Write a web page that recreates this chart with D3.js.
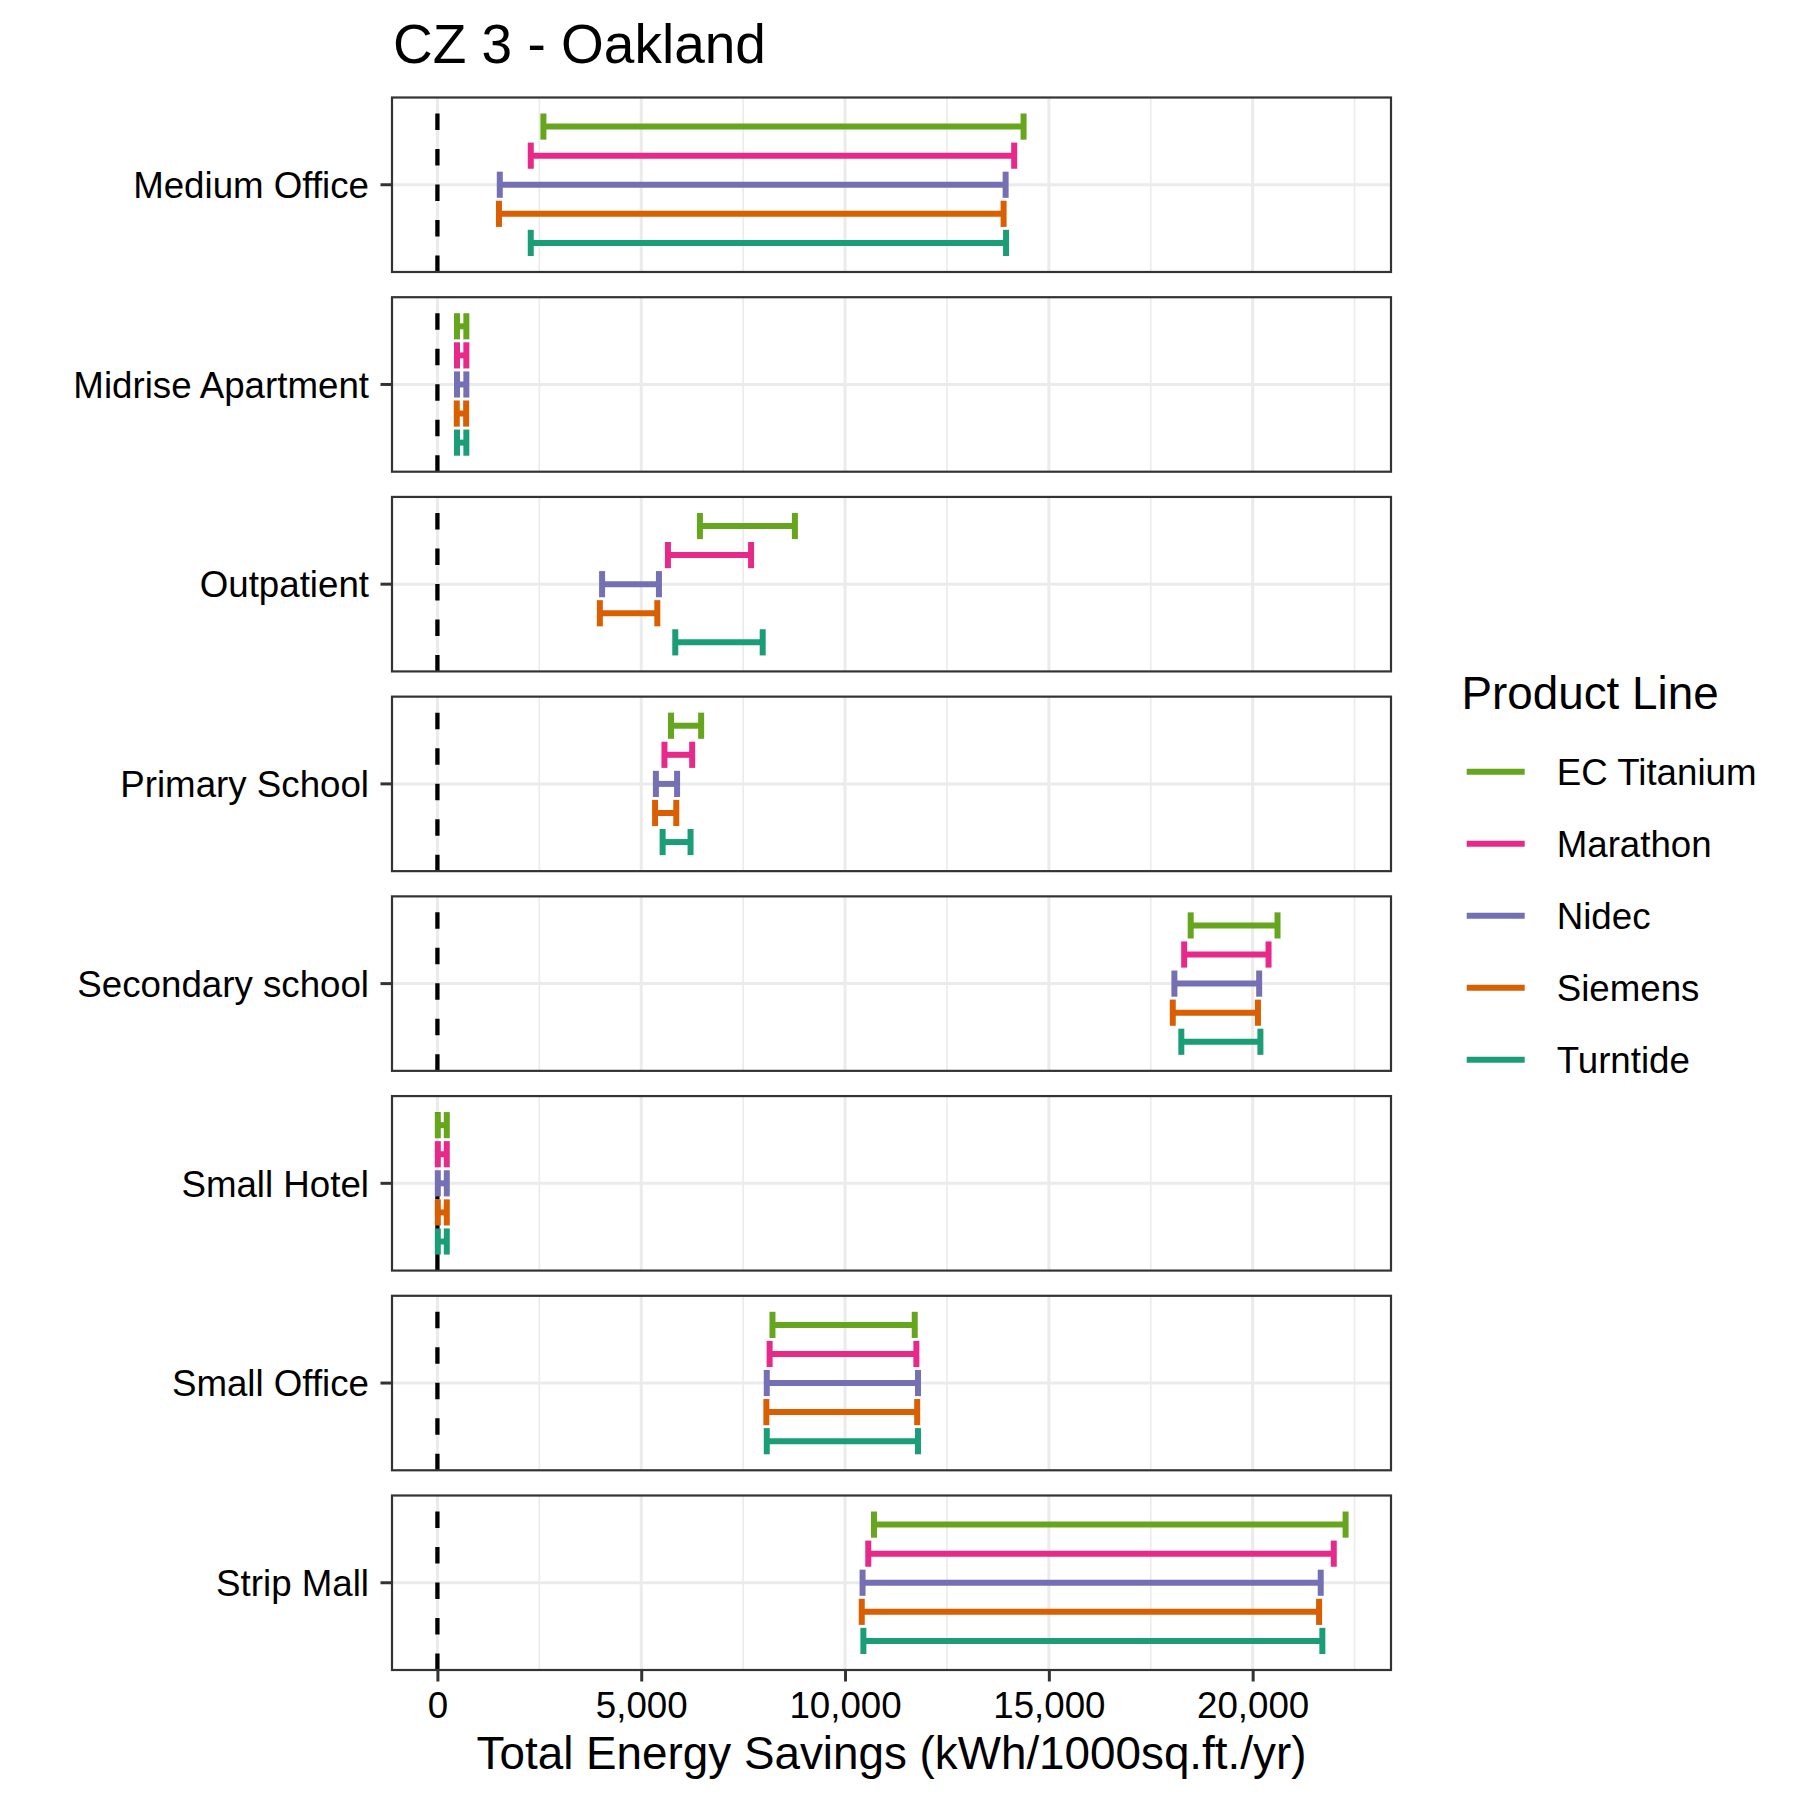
<!DOCTYPE html>
<html>
<head>
<meta charset="utf-8">
<script src="https://cdn.jsdelivr.net/npm/d3@7"></script>
<style>
  html, body { margin: 0; padding: 0; background: #ffffff; }
  svg text { font-family: "Liberation Sans", Arial, sans-serif; }
</style>
</head>
<body>
<script>
// ---- data ----
const title = "CZ 3 - Oakland";
const xTitle = "Total Energy Savings (kWh/1000sq.ft./yr)";
const legendTitle = "Product Line";
const categories = ["Medium Office", "Midrise Apartment", "Outpatient", "Primary School",
                    "Secondary school", "Small Hotel", "Small Office", "Strip Mall"];
const productLines = ["EC Titanium", "Marathon", "Nidec", "Siemens", "Turntide"];
const lineColors = ["#66A61E", "#E7298A", "#7570B3", "#D95F02", "#1B9E77"];

const lowEC       = [2600, 480, 6440, 5730, 18480, 10, 8220, 10710];
const highEC      = [14380, 710, 8770, 6470, 20610, 230, 11710, 22280];
const lowMarathon = [2290, 480, 5655, 5570, 18320, 10, 8150, 10570];
const highMarathon= [14150, 710, 7695, 6250, 20390, 230, 11750, 21990];
const lowNidec    = [1530, 480, 4040, 5360, 18080, 10, 8080, 10430];
const highNidec   = [13940, 710, 5435, 5880, 20160, 230, 11790, 21670];
const lowSiemens  = [1510, 475, 3985, 5340, 18040, 10, 8070, 10410];
const highSiemens = [13890, 705, 5395, 5860, 20130, 230, 11770, 21630];
const lowTurntide = [2290, 480, 5835, 5525, 18250, 10, 8080, 10450];
const highTurntide= [13950, 710, 7980, 6210, 20190, 230, 11790, 21710];

const majorTicks = [0, 5000, 10000, 15000, 20000];
const minorTicks = [2500, 7500, 12500, 17500, 22500];
const refLine = 0;

// build rows
const lows = [lowEC, lowMarathon, lowNidec, lowSiemens, lowTurntide];
const highs = [highEC, highMarathon, highNidec, highSiemens, highTurntide];
const rows = [];
categories.forEach((c, ci) => {
  productLines.forEach((p, pi) => {
    rows.push({ category: c, line: p, low: lows[pi][ci], high: highs[pi][ci] });
  });
});

// ---- layout ----
const W = 1800, H = 1800;
const panelLeft = 392, panelRight = 1391;
const panelTop = 97.5, panelBottom = 1670;

const svg = d3.select("body").append("svg")
  .attr("width", W).attr("height", H)
  .attr("viewBox", `0 0 ${W} ${H}`);

svg.append("rect").attr("width", W).attr("height", H).attr("fill", "#ffffff");

const lo = Math.min(refLine, d3.min(rows, d => d.low));
const hi = Math.max(refLine, d3.max(rows, d => d.high));
const pad = 0.05 * (hi - lo);
const x = d3.scaleLinear().domain([lo - pad, hi + pad]).range([panelLeft, panelRight]);

const panelY = d3.scaleBand().domain(categories)
  .range([panelTop, panelBottom]).paddingInner(0.1263).paddingOuter(0);

const color = d3.scaleOrdinal().domain(productLines).range(lineColors);

// ---- panels ----
categories.forEach(cat => {
  const top = panelY(cat);
  const ph = panelY.bandwidth();
  const cy = top + ph / 2;
  const unit = ph / 1.2;               // one discrete unit
  const inner = d3.scaleBand().domain(productLines)
    .range([cy - unit / 2, cy + unit / 2]).padding(0);
  const g = svg.append("g");

  // minor grid
  g.selectAll(".minor").data(minorTicks.filter(t => x(t) > panelLeft && x(t) < panelRight))
    .enter().append("line")
    .attr("x1", d => x(d)).attr("x2", d => x(d))
    .attr("y1", top).attr("y2", top + ph)
    .attr("stroke", "#EBEBEB").attr("stroke-width", 1.6);
  // major grid
  g.selectAll(".major").data(majorTicks).enter().append("line")
    .attr("x1", d => x(d)).attr("x2", d => x(d))
    .attr("y1", top).attr("y2", top + ph)
    .attr("stroke", "#EBEBEB").attr("stroke-width", 3);
  g.append("line")
    .attr("x1", panelLeft).attr("x2", panelRight)
    .attr("y1", cy).attr("y2", cy)
    .attr("stroke", "#EBEBEB").attr("stroke-width", 3);

  // dashed reference line (drawn bottom to top)
  g.append("line")
    .attr("x1", x(refLine)).attr("x2", x(refLine))
    .attr("y1", top + ph).attr("y2", top)
    .attr("stroke", "#000000").attr("stroke-width", 4.3)
    .attr("stroke-dasharray", "16.5,19");

  // error bars
  const data = rows.filter(r => r.category === cat);
  const capHalf = inner.bandwidth() * 0.9 / 2;
  const eb = g.selectAll(".eb").data(data).enter().append("g")
    .attr("stroke", d => color(d.line)).attr("stroke-width", 6)
    .attr("fill", "none");
  eb.append("line")
    .attr("x1", d => x(d.low)).attr("x2", d => x(d.high))
    .attr("y1", d => inner(d.line) + inner.bandwidth() / 2)
    .attr("y2", d => inner(d.line) + inner.bandwidth() / 2);
  eb.append("line")
    .attr("x1", d => x(d.low)).attr("x2", d => x(d.low))
    .attr("y1", d => inner(d.line) + inner.bandwidth() / 2 - capHalf)
    .attr("y2", d => inner(d.line) + inner.bandwidth() / 2 + capHalf);
  eb.append("line")
    .attr("x1", d => x(d.high)).attr("x2", d => x(d.high))
    .attr("y1", d => inner(d.line) + inner.bandwidth() / 2 - capHalf)
    .attr("y2", d => inner(d.line) + inner.bandwidth() / 2 + capHalf);

  // border
  g.append("rect")
    .attr("x", panelLeft).attr("y", top)
    .attr("width", panelRight - panelLeft).attr("height", ph)
    .attr("fill", "none").attr("stroke", "#333333").attr("stroke-width", 2.2);

  // y tick + label
  g.append("line")
    .attr("x1", panelLeft - 11.5).attr("x2", panelLeft)
    .attr("y1", cy).attr("y2", cy)
    .attr("stroke", "#333333").attr("stroke-width", 3);
  g.append("text")
    .attr("x", panelLeft - 23).attr("y", cy)
    .attr("dy", "0.36em")
    .attr("text-anchor", "end")
    .attr("font-size", 36.7)
    .attr("fill", "#000000")
    .text(cat);
});

// ---- x axis ----
const xAxis = d3.axisBottom(x).tickValues(majorTicks)
  .tickFormat(d3.format(",")).tickSize(11.5).tickPadding(10);
const axG = svg.append("g").attr("transform", `translate(0,${panelBottom})`).call(xAxis);
axG.select(".domain").remove();
axG.selectAll(".tick line").attr("stroke", "#333333").attr("stroke-width", 3);
axG.selectAll(".tick text")
  .attr("font-size", 36.7).attr("fill", "#000000")
  .attr("font-family", "'Liberation Sans', Arial, sans-serif");

svg.append("text")
  .attr("x", (panelLeft + panelRight) / 2).attr("y", 1769)
  .attr("text-anchor", "middle").attr("font-size", 45.8).attr("fill", "#000000")
  .text(xTitle);

// ---- title ----
svg.append("text")
  .attr("x", panelLeft + 1).attr("y", 63)
  .attr("font-size", 55).attr("fill", "#000000")
  .text(title);

// ---- legend ----
const lg = svg.append("g");
lg.append("text").attr("x", 1461.5).attr("y", 709)
  .attr("font-size", 45.8).attr("fill", "#000000").text(legendTitle);
const items = lg.selectAll(".item").data(productLines).enter().append("g")
  .attr("transform", (d, i) => `translate(0,${771.7 + i * 72})`);
items.append("line")
  .attr("x1", 1466.7).attr("x2", 1524.7).attr("y1", 0).attr("y2", 0)
  .attr("stroke", d => color(d)).attr("stroke-width", 6);
items.append("text")
  .attr("x", 1556.7).attr("y", 0).attr("dy", "0.36em")
  .attr("font-size", 36.7).attr("fill", "#000000")
  .text(d => d);
</script>
</body>
</html>
